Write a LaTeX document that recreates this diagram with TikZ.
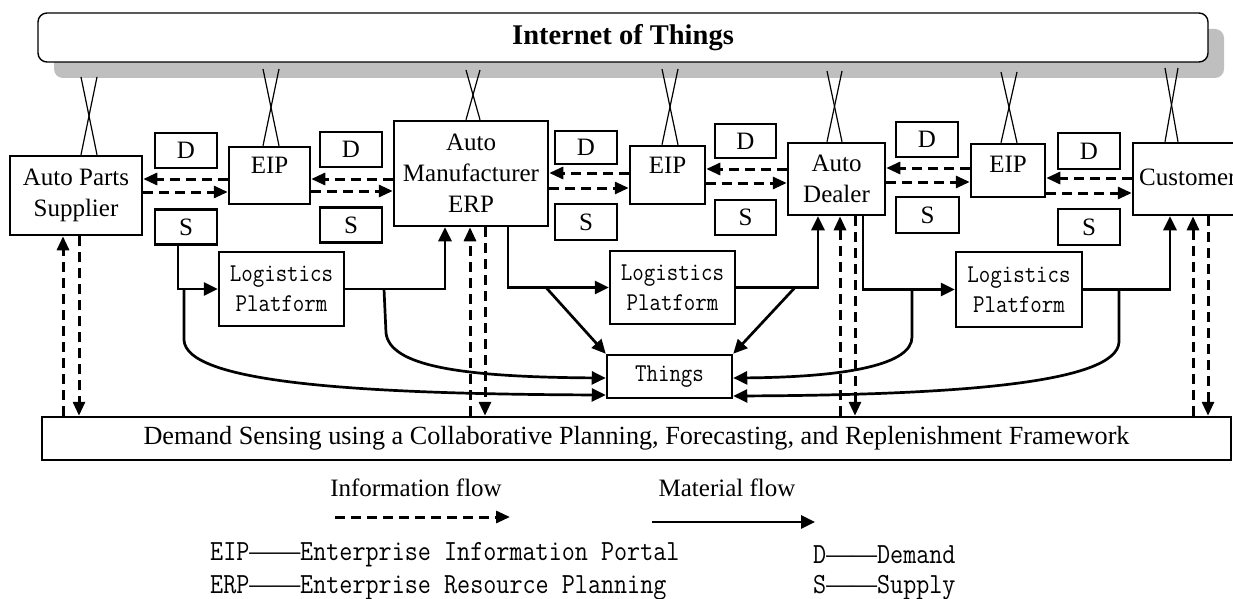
\documentclass[tikz,border=0pt]{standalone}
\usepackage{fontspec}
\usepackage{graphicx}
\setmainfont{Liberation Serif}
\newfontfamily\monof{Latin Modern Mono}
\usetikzlibrary{arrows.meta}
\newcommand\fsz[2]{\fontsize{#1}{#2}\selectfont}
\newcommand\tm[1]{\scalebox{1}[1.15]{#1}}
\newcommand\emd{{\rmfamily ——}}
\newcommand\xc[4]{%
  \coordinate (xa) at (#2,#4); \coordinate (xb) at (#3,#4);
  \draw[xl] (xa) -- (xb |- #1.north);
  \draw[xl] (xb) -- (xa |- #1.north);}
\begin{document}
\begin{tikzpicture}[x=1pt,y=-1pt,
  box/.style={draw, line width=2.5pt, inner sep=0pt, align=center, font=\fsz{25}{31}},
  ds/.style={box, minimum width=62pt, minimum height=35pt},
  logbox/.style={box, align=center, font=\monof\fsz{22.3}{30}},
  txt/.style={inner sep=0pt, align=center, font=\fsz{25}{31}},
  leg/.style={inner sep=0pt, anchor=west, font=\monof\fsz{25.4}{28}},
  xl/.style={line width=1.2pt},
  info/.style={line width=3pt, dash pattern=on 10pt off 6pt, -{Triangle[length=14pt,width=12pt]}},
  mat/.style={line width=2.7pt, -{Triangle[length=14pt,width=13pt]}},
]
\useasboundingbox (0,0) rectangle (1233,599);
\clip (0,0) rectangle (1233,599);

% Internet of Things bar with shadow
\fill[gray!50, rounded corners=9pt] (54,29) rectangle (1224,78);
\node[draw, fill=white, line width=1.4pt, rounded corners=9pt, minimum width=1170pt, minimum height=49pt, inner sep=0pt, font=\bfseries\fsz{28.5}{30}] (iot) at (623,37.5) {Internet of Things};

% main boxes
\node[box, minimum width=132pt, minimum height=79pt] (sup) at (76,195.5) {Auto Parts\\Supplier};
\node[box, minimum width=81pt, minimum height=57pt] (eip1) at (269.5,175.5) {};
\node[txt] (eip1t) at (269.5,165) {EIP};
\node[box, minimum width=154pt, minimum height=105pt] (mfr) at (471,173.5) {Auto\\Manufacturer\\ERP};
\node[box, minimum width=75pt, minimum height=58pt] (eip2) at (667.5,175) {};
\node[txt] (eip2t) at (667.5,165) {EIP};
\node[box, minimum width=97pt, minimum height=72pt] (dealer) at (836.5,179) {Auto\\Dealer};
\node[box, minimum width=74pt, minimum height=53pt] (eip3) at (1008,170.5) {};
\node[txt] (eip3t) at (1008,164.5) {EIP};
\node[box, minimum width=117pt, minimum height=72pt] (cust) at (1191.5,179) {};
\node[txt, anchor=west] (custt) at (1139,177) {Customer};

% D and S boxes
\node[ds] (d1) at (186,150.5) {D};
\node[ds] (s1) at (186,227) {S};
\node[ds] (d2) at (351,149.5) {D};
\node[ds] (s2) at (351,225) {S};
\node[ds, minimum height=33pt] (d3) at (586,147.5) {D};
\node[ds, minimum height=36pt] (s3) at (586,222) {S};
\node[ds, minimum width=61pt, minimum height=34pt] (d4) at (745.5,141) {D};
\node[ds, minimum width=61pt] (s4) at (745.5,217.5) {S};
\node[ds] (d5) at (927,139.5) {D};
\node[ds, minimum width=63pt, minimum height=36pt] (s5) at (927.5,215) {S};
\node[ds, minimum height=36pt] (d6) at (1089,151) {D};
\node[ds, minimum height=36pt] (s6) at (1089,227) {S};

% logistics, things, demand
\node[logbox, minimum width=125pt, minimum height=74pt] (log1) at (281.5,289) {\tm{Logistics}\\\tm{Platform}};
\node[logbox, minimum width=125pt, minimum height=73pt] (log2) at (672.5,287.5) {\tm{Logistics}\\\tm{Platform}};
\node[logbox, minimum width=126pt, minimum height=75pt] (log3) at (1019,289.5) {\tm{Logistics}\\\tm{Platform}};
\node[logbox, minimum width=125pt, minimum height=43pt] (things) at (669.5,376.5) {\tm{Things}};
\node[box, font=\fsz{26.2}{31}, minimum width=1189pt, minimum height=43pt] (demand) at (636.5,438.5) {Demand Sensing using a Collaborative Planning, Forecasting, and Replenishment Framework};

% X connectors to the IoT bar
\xc{sup}{81}{97}{77}
\xc{eip1}{263}{279}{69}
\xc{mfr}{466}{480}{70}
\xc{eip2}{662}{678}{69}
\xc{dealer}{827}{842}{71}
\xc{eip3}{1001}{1017}{72}
\xc{cust}{1165}{1178}{68}

% horizontal information flows
\draw[info] (eip1.west |- 0,179) -- (sup.east |- 0,179);
\draw[info] (sup.east |- 0,192) -- (eip1.west |- 0,192);
\draw[info] (mfr.west |- 0,179) -- (eip1.east |- 0,179);
\draw[info] (eip1.east |- 0,191) -- (mfr.west |- 0,191);
\draw[info] (eip2.west |- 0,173) -- (mfr.east |- 0,173);
\draw[info] (mfr.east |- 0,188) -- (eip2.west |- 0,188);
\draw[info] (dealer.west |- 0,169) -- (eip2.east |- 0,169);
\draw[info] (eip2.east |- 0,183) -- (dealer.west |- 0,183);
\draw[info] (eip3.west |- 0,168) -- (dealer.east |- 0,168);
\draw[info] (dealer.east |- 0,182) -- (eip3.west |- 0,182);
\draw[info] (cust.west |- 0,178) -- (eip3.east |- 0,178);
\draw[info] (eip3.east |- 0,193) -- (cust.west |- 0,193);

% vertical information flows
\draw[info] (63,0 |- demand.north) -- (63,0 |- sup.south);
\draw[info] (79,0 |- sup.south) -- (79,0 |- demand.north);
\draw[info] (470,0 |- demand.north) -- (470,0 |- mfr.south);
\draw[info] (485,0 |- mfr.south) -- (485,0 |- demand.north);
\draw[info] (840,0 |- demand.north) -- (840,0 |- dealer.south);
\draw[info] (855,0 |- dealer.south) -- (855,0 |- demand.north);
\draw[info] (1193,0 |- demand.north) -- (1193,0 |- cust.south);
\draw[info] (1208,0 |- cust.south) -- (1208,0 |- demand.north);

% material flows
\draw[mat] (178,0 |- s1.south) |- (log1.west);
\draw[mat] (log1.east) -| (445,0 |- mfr.south);
\draw[mat] (508,0 |- mfr.south) |- (log2.west);
\draw[mat] (log2.east) -| (818,0 |- dealer.south);
\draw[mat] (863,0 |- dealer.south) |- (log3.west);
\draw[mat] (log3.east) -| (1170,0 |- cust.south);

\coordinate (m1) at (546,287.5);
\draw[mat] (m1) -- (things.north west);
\coordinate (m2) at (795,287.5);
\draw[mat] (m2) -- (things.north east);

\coordinate (c1) at (184,289);
\draw[mat] (c1) -- (184,340) .. controls (186,382) and (350,394) .. (things.west |- 0,395);
\coordinate (c2) at (384,289);
\draw[mat] (c2) -- (386,333) .. controls (390,366) and (460,377) .. (things.west |- 0,378);
\coordinate (c3) at (912,289.5);
\draw[mat] (c3) -- (912,337) .. controls (912,364) and (850,377) .. (things.east |- 0,378);
\coordinate (c4) at (1119,289.5);
\draw[mat] (c4) -- (1119,342) .. controls (1117,384) and (950,395) .. (things.east |- 0,396);

% legend
\node[txt] (lif) at (416,488) {Information flow};
\coordinate (la1) at (335,517);
\coordinate (la2) at (510,517);
\draw[info] (la1) -- (la2);
\node[txt] (lmf) at (727,488) {Material flow};
\coordinate (lb1) at (652,522);
\coordinate (lb2) at (815,522);
\draw[mat] (lb1) -- (lb2);
\node[leg] (k1) at (210,555) {\tm{EIP\emd Enterprise Information Portal}};
\node[leg] (k2) at (210,588) {\tm{ERP\emd Enterprise Resource Planning}};
\node[leg] (k3) at (813,555) {\tm{D\emd Demand}};
\node[leg] (k4) at (813,588) {\tm{S\emd Supply}};
\end{tikzpicture}
\end{document}
